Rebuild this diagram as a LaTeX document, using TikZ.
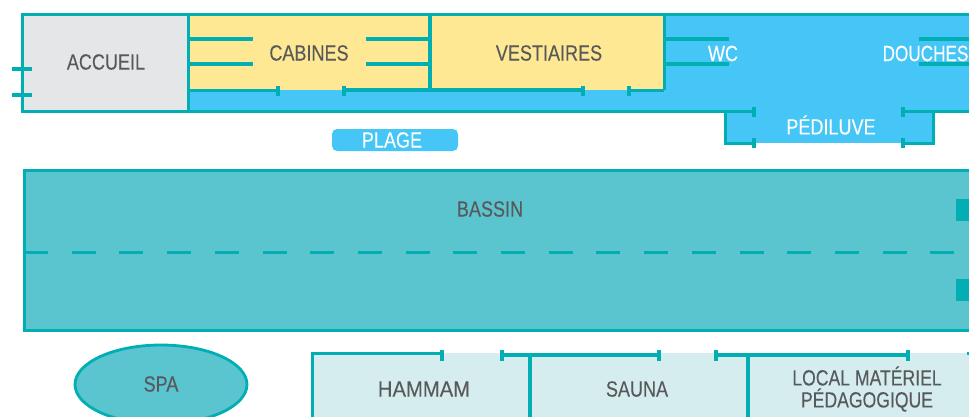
\documentclass[tikz,border=0pt]{standalone}
\usepackage{fontspec}
\setmainfont[FakeStretch=0.82,FakeBold=0.12]{Liberation Sans}
\definecolor{teal}{HTML}{00AEB3}
\definecolor{sky}{HTML}{45C6F6}
\definecolor{sand}{HTML}{FFE893}
\definecolor{greyroom}{HTML}{E5E6E8}
\definecolor{pool}{HTML}{5AC5CE}
\definecolor{pale}{HTML}{D5EDEF}
\definecolor{ink}{HTML}{58595B}
\tikzset{
  wall/.style={draw=teal,line width=3.1pt},
  shell/.style={draw=teal,line width=3pt},
  darklabel/.style={text=ink,font=\fontsize{22}{22}\selectfont,align=center,inner sep=0pt},
  lightlabel/.style={text=white,font=\fontsize{22}{22}\selectfont,align=center,inner sep=0pt}
}
\begin{document}
\begin{tikzpicture}[x=1pt,y=-1pt]
\useasboundingbox (0,0) rectangle (969,416);
\clip (0,0) rectangle (969,416);
% top strip fills
\fill[sky] (188,14) rectangle (975,111);
\fill[sky] (725,111) rectangle (933,143);
\fill[greyroom] (22,14) rectangle (188,111);
\fill[sand] (188,14) rectangle (664,90);
% top strip walls
\draw[shell] (975,14) -- (22,14) -- (22,111) -- (754,111);
\draw[shell] (903,111) -- (975,111);
\draw[shell] (188,14) -- (188,111);
\draw[wall] (430,14) -- (430,90);
\draw[shell] (664,14) -- (664,90);
\draw[shell] (188,90) -- (278,90);
\draw[wall] (344,90) -- (583,90);
\draw[shell] (629,90) -- (664,90);
\foreach \x in {278,344,583,629} \draw[wall] (\x,86) -- (\x,96);
% entrance
\draw[wall] (12,69) -- (32,69) (12,95) -- (32,95);
% partitions
\draw[wall] (188,39) -- (253,39) (188,64) -- (253,64);
\draw[wall] (366,39) -- (430,39) (366,64) -- (430,64);
\draw[wall] (664,39) -- (729,39) (664,64) -- (729,64);
\draw[wall] (919,39) -- (975,39) (919,64) -- (975,64);
% pediluve
\draw[shell] (754,111) -- (725,111) -- (725,143) -- (754,143);
\draw[shell] (903,111) -- (933,111) -- (933,143) -- (903,143);
\foreach \x in {754,903} {
  \draw[wall] (\x,107) -- (\x,117);
  \draw[wall] (\x,138) -- (\x,148);
}
% plage
\fill[sky,rounded corners=5pt] (332,129) rectangle (458,151);
% bassin
\fill[pool] (24,170) rectangle (975,330);
\draw[shell] (975,170) -- (24,170) -- (24,330) -- (975,330);
\draw[draw=teal,line width=3pt,dash pattern=on 24pt off 23.7pt] (24,252) -- (975,252);
\fill[teal] (956,199) rectangle (975,221);
\fill[teal] (956,279) rectangle (975,301);
% spa
\draw[teal,line width=2.8pt,fill=pool] (161,384.5) ellipse [x radius=86,y radius=39.5];
% lower rooms
\fill[pale] (312,353) rectangle (975,425);
\draw[shell] (312,425) -- (312,353) -- (442,353);
\draw[wall] (442,350) -- (442,361);
\draw[wall] (502,355) -- (659,355) (716,355) -- (908,355);
\foreach \x in {502,659,716,908} \draw[wall] (\x,350) -- (\x,361);
\draw[wall] (530,353) -- (530,425) (748,353) -- (748,425);
\draw[shell] (967,353) -- (975,353);
% labels
\node[darklabel] (accueil) at (106,62) {ACCUEIL};
\node[darklabel] (cabines) at (309,53) {CABINES};
\node[darklabel] (vestiaires) at (549,53) {VESTIAIRES};
\node[lightlabel] (wc) at (723,53.5) {WC};
\node[lightlabel] (douches) at (925.5,53.5) {\addfontfeature{FakeStretch=0.78}DOUCHES};
\node[lightlabel] (pediluve) at (831,125) {PÉDILUVE};
\node[lightlabel] (plage) at (392,140) {PLAGE};
\node[darklabel] (bassin) at (490,209) {BASSIN};
\node[darklabel] (spa) at (161,384) {SPA};
\node[darklabel] (hammam) at (424,389) {\addfontfeature{FakeStretch=0.92}HAMMAM};
\node[darklabel] (sauna) at (637,389) {SAUNA};
\node[darklabel] (local) at (867,389) {\addfontfeature{FakeStretch=0.8}LOCAL MATÉRIEL\\[0pt]\addfontfeature{FakeStretch=0.8}PÉDAGOGIQUE};
\end{tikzpicture}
\end{document}
